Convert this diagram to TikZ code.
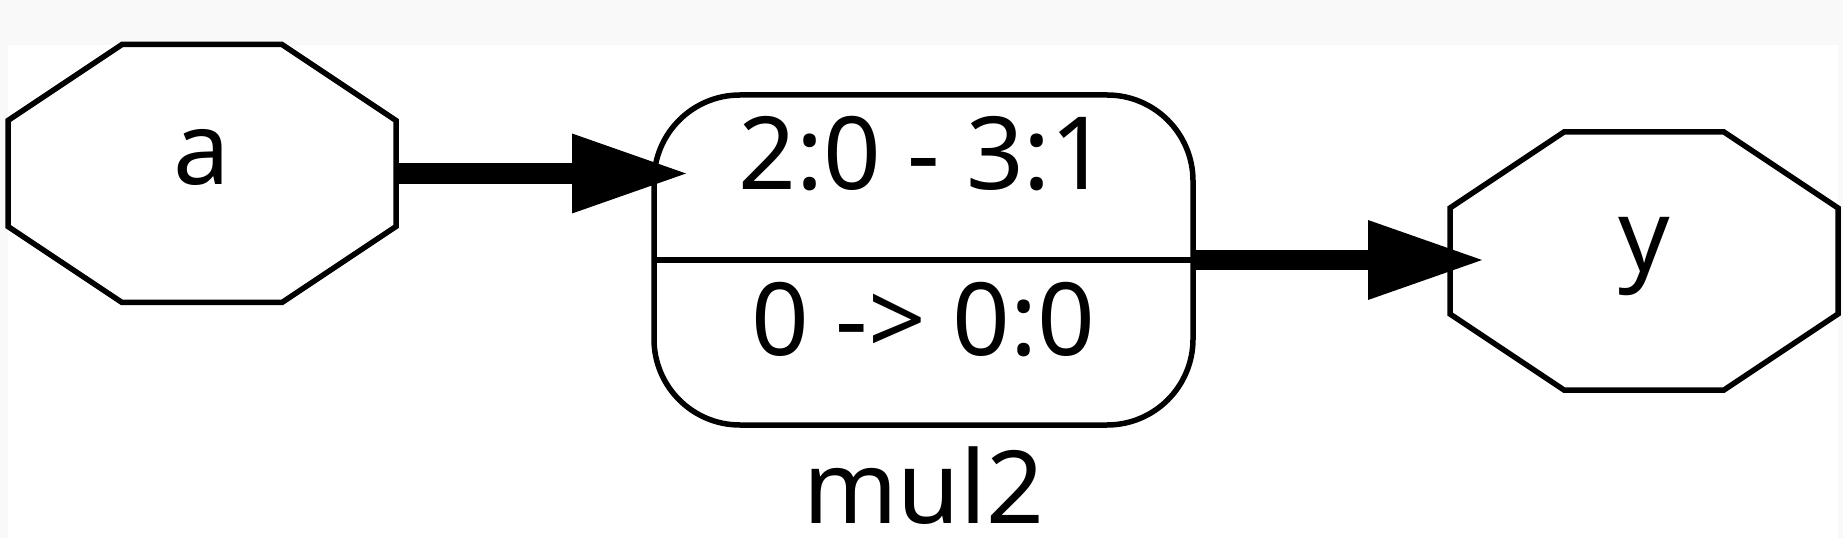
\documentclass[tikz,border=0pt]{standalone}
\usepackage{fontspec}
\setmainfont{Noto Sans}
\usetikzlibrary{arrows.meta}
\definecolor{bggray}{RGB}{249,249,249}

\begin{document}
\begin{tikzpicture}[x=0.2mm,y=-0.2mm,
        border/.style={line width=1.1mm, line join=miter},
        octnode/.style={minimum width=77.6mm, minimum height=51.6mm, inner sep=0pt, outer sep=0pt},
        recnode/.style={draw, border, rounded corners=17.2mm, minimum width=107.8mm, minimum height=66mm, inner sep=0pt, outer sep=0pt},
        lbl/.style={anchor=base, inner sep=0pt, font=\fontsize{57.5pt}{69pt}\selectfont},
        bus/.style={line width=4.1mm, -{Triangle[length=22.8mm, width=16mm, line width=0pt]}, shorten >=-6.4mm}]
        % 背景
        \fill[bggray] (0,0) rectangle (1843,538);
        \fill[white] (8,45) rectangle (1838,538);
    
        % 定义三个节点
        \node[octnode] (a) at (202,173.5) {};
        \node[octnode] (y) at (1644,261) {};
        \node[recnode] (rec) at (923.5,260) {};
    
        % 绘制八边形和分隔线
        \foreach \n in {a,y}
            \draw[border, shift={(\n)}] (-80,-129) -- (80,-129) -- (194,-53) -- (194,53)
                -- (80,129) -- (-80,129) -- (-194,53) -- (-194,-53) -- cycle;
        \draw[border] (rec.west) -- (rec.east);
    
        % 文字
        \node[lbl] (atext) at (202,184.5) {a};
        \node[lbl] (ytext) at (1644,272) {y};
        \node[lbl] (range) at (923.5,190) {2:0 - 3:1};
        \node[lbl] (map) at (923.5,355) {0 -> 0:0};
        \node[lbl] (cell) at (923.5,523) {mul2};
    
        % 连线
        \draw[bus] (a.east) -- (a.east -| rec.west);
        \draw[bus] (rec.east) -- (rec.east -| y.west);
    \end{tikzpicture}
\end{document}
